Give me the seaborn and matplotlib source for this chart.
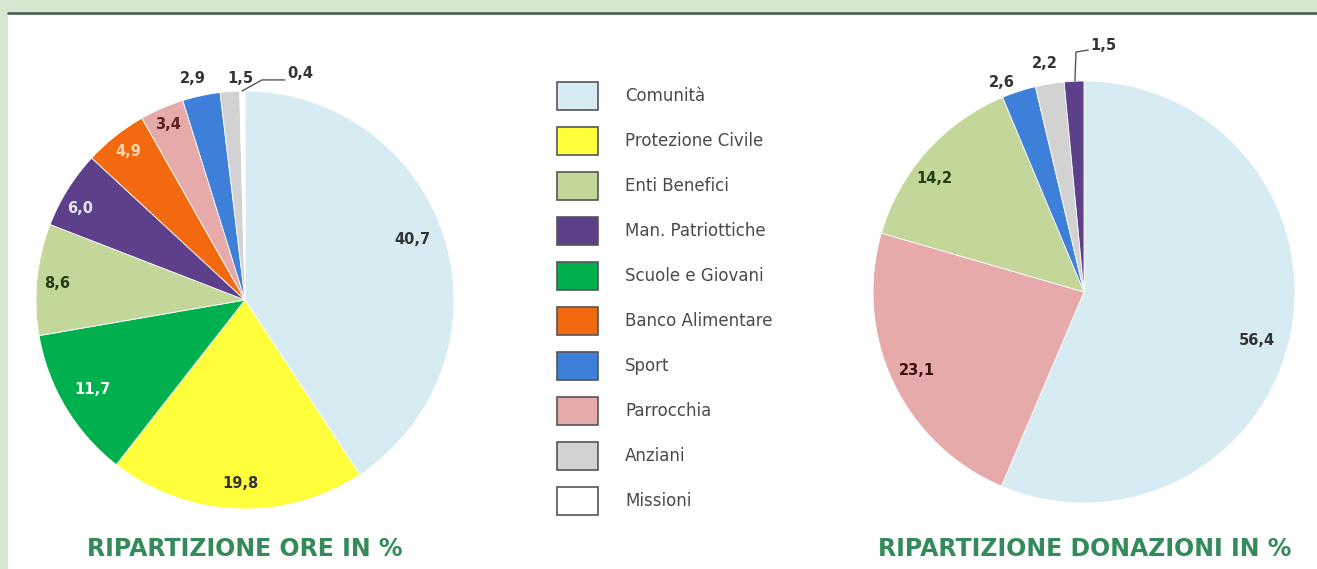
import matplotlib
matplotlib.use("Agg")
import matplotlib.pyplot as plt
from matplotlib.patches import Patch, Rectangle
from matplotlib.lines import Line2D
import seaborn as sns

# Dati
categorie = ["Comunità", "Protezione Civile", "Enti Benefici", "Man. Patriottiche",
             "Scuole e Giovani", "Banco Alimentare", "Sport", "Parrocchia",
             "Anziani", "Missioni"]

ore_cat = ["Comunità", "Protezione Civile", "Scuole e Giovani", "Enti Benefici",
           "Man. Patriottiche", "Banco Alimentare", "Parrocchia", "Sport",
           "Anziani", "Missioni"]
ore_val = [40.7, 19.8, 11.7, 8.6, 6.0, 4.9, 3.4, 2.9, 1.5, 0.4]

don_cat = ["Comunità", "Parrocchia", "Enti Benefici", "Sport", "Anziani",
           "Man. Patriottiche"]
don_val = [56.4, 23.1, 14.2, 2.6, 2.2, 1.5]

colori = {
    "Comunità": "#d7ebf2",
    "Protezione Civile": "#ffff3c",
    "Enti Benefici": "#c4d79b",
    "Man. Patriottiche": "#5e3f8a",
    "Scuole e Giovani": "#00b04f",
    "Banco Alimentare": "#f2690f",
    "Sport": "#3d7fd9",
    "Parrocchia": "#e6aaaa",
    "Anziani": "#d2d2d2",
    "Missioni": "#ffffff",
}

# colore e posizione delle etichette (in unità del raggio)
col_etichette_ore = ["#333333", "#333333", "#ffffff", "#1e3d12", "#ece4f7",
                     "#fcd6b6", "#5a1e1e", "#333333", "#333333", "#333333"]
pos_etichette_ore = [(0.80, 0.29), (-0.024, -0.876), (-0.73, -0.43), (-0.90, 0.08),
                     (-0.79, 0.44), (-0.56, 0.71), (-0.37, 0.84), (-0.25, 1.06),
                     (-0.02, 1.06), (0.263, 1.086)]
col_etichette_don = ["#333333", "#3a1010", "#1e3d12", "#333333", "#333333", "#333333"]
pos_etichette_don = [(0.82, -0.23), (-0.79, -0.37), (-0.71, 0.54), (-0.39, 0.995),
                     (-0.185, 1.085), (0.09, 1.17)]

W, H = 1317, 569
sns.set_style("white")
plt.rcParams["font.family"] = ["DejaVu Sans"]

fig = plt.figure(figsize=(W / 100, H / 100), dpi=100)
fig.patch.set_facecolor("#d5e8cf")

# pannello bianco
fig.patches.append(Rectangle((8 / W, 0), 1 - 8 / W, (H - 13) / H, transform=fig.transFigure,
                             facecolor="white", edgecolor="none", zorder=-5))
fig.lines.append(Line2D([8 / W, 1], [1 - 13 / H, 1 - 13 / H], transform=fig.transFigure,
                        color="#4f6358", lw=2, zorder=-4))


def torta(cx, cy, r, valori, cat, col_lab, pos_lab, lim=1.3):
    w = 2 * r * lim
    ax = fig.add_axes([(cx - w / 2) / W, 1 - (cy + w / 2) / H, w / W, w / H])
    ax.patch.set_alpha(0)
    wedges, _ = ax.pie(valori, colors=[colori[c] for c in cat], startangle=90,
                       counterclock=False,
                       wedgeprops=dict(edgecolor="white", linewidth=0.6))
    ax.set_xlim(-lim, lim)
    ax.set_ylim(-lim, lim)
    ax.axis("off")
    for v, c, (x, y) in zip(valori, col_lab, pos_lab):
        ax.text(x, y, f"{v:.1f}".replace(".", ","), ha="center", va="center",
                fontsize=10.5, fontweight="bold", color=c)
    return ax, wedges


ax1, w1 = torta(245, 300, 209, ore_val, ore_cat, col_etichette_ore, pos_etichette_ore)
ax2, w2 = torta(1084, 292, 211, don_val, don_cat, col_etichette_don, pos_etichette_don)

# linee guida per le fette piccole
ax1.plot([-0.014, 0.081, 0.19], [1.0, 1.053, 1.053], color="#555555", lw=1)
ax2.plot([-0.043, -0.038, 0.02], [1.0, 1.137, 1.147], color="#555555", lw=1)

# legenda
handles = [Patch(facecolor=colori[c], edgecolor="#555555", linewidth=1.2) for c in categorie]
fs = 12
px = fs * 100 / 72
hh = (28 / px - 0.245) / 0.65
fig.legend(handles, categorie, loc="upper left",
           bbox_to_anchor=(557 / W, 1 - 82 / H), frameon=False,
           fontsize=fs, handlelength=41 / px, handleheight=hh,
           labelspacing=(45 - 28) / px, handletextpad=27 / px,
           borderpad=0, borderaxespad=0, labelcolor="#4a4a4a")

# titoli
fig.text(245 / W, 1 - 549 / H, "RIPARTIZIONE ORE IN %", ha="center", va="center",
         fontsize=17, fontweight="bold", color="#348a5a")
fig.text(1085 / W, 1 - 549 / H, "RIPARTIZIONE DONAZIONI IN %", ha="center", va="center",
         fontsize=17, fontweight="bold", color="#348a5a")

fig.savefig("out.png", dpi=100, facecolor=fig.get_facecolor())
